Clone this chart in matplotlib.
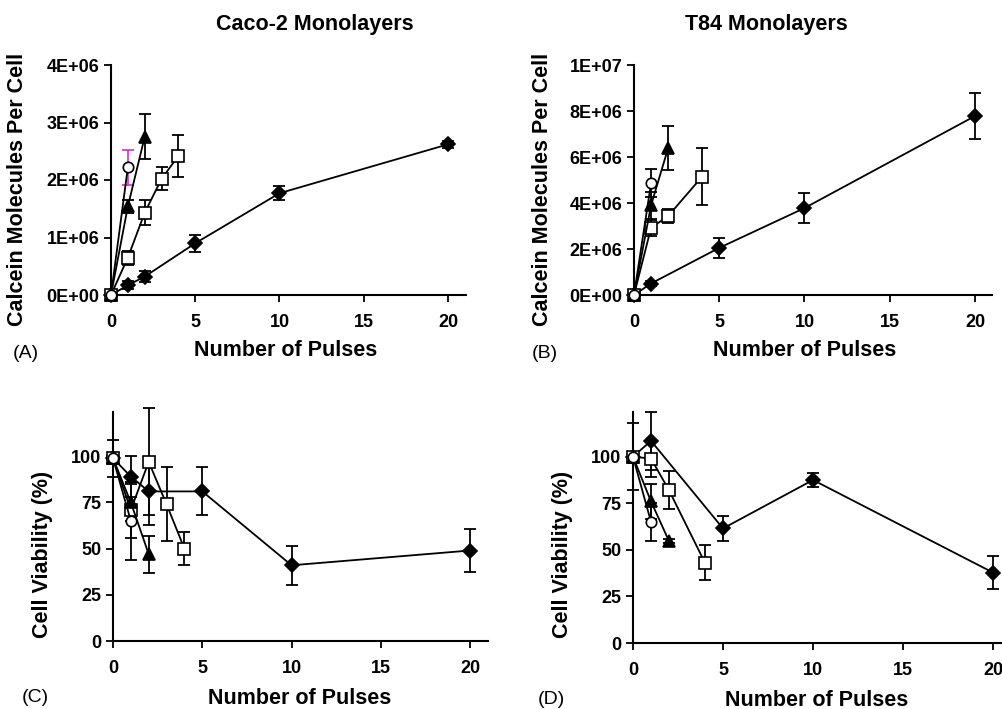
import matplotlib.pyplot as plt
from matplotlib.ticker import FuncFormatter

plt.rcParams['font.family'] = ['Liberation Sans', 'DejaVu Sans']

# ---- Caco-2 calcein uptake (A)
a_dia_x = [0, 1, 2, 5, 10, 20]
a_dia_y = [0, 0.17e6, 0.32e6, 0.90e6, 1.77e6, 2.62e6]
a_dia_e = [0, 0.07e6, 0.09e6, 0.15e6, 0.12e6, 0.06e6]
a_sq_x = [0, 1, 2, 3, 4]
a_sq_y = [0, 0.65e6, 1.43e6, 2.02e6, 2.42e6]
a_sq_e = [0, 0.12e6, 0.22e6, 0.20e6, 0.37e6]
a_tri_x = [0, 1, 2]
a_tri_y = [0, 1.54e6, 2.75e6]
a_tri_e = [0, 0.12e6, 0.39e6]
a_cir_x = [0, 1]
a_cir_y = [0, 2.22e6]
a_cir_e = [0, 0.31e6]

# ---- T84 calcein uptake (B)
b_dia_x = [0, 1, 5, 10, 20]
b_dia_y = [0, 0.5e6, 2.05e6, 3.78e6, 7.78e6]
b_dia_e = [0, 0.1e6, 0.43e6, 0.64e6, 1.0e6]
b_sq_x = [0, 1, 2, 4]
b_sq_y = [0, 2.92e6, 3.43e6, 5.15e6]
b_sq_e = [0, 0.35e6, 0.3e6, 1.25e6]
b_tri_x = [0, 1, 2]
b_tri_y = [0, 3.9e6, 6.38e6]
b_tri_e = [0, 0.6e6, 0.96e6]
b_cir_x = [0, 1]
b_cir_y = [0, 4.86e6]
b_cir_e = [0, 0.6e6]

# ---- Caco-2 viability (C)
c_dia_x = [0, 1, 2, 5, 10, 20]
c_dia_y = [99, 89, 81, 81, 41, 49]
c_dia_e = [10, 11, 18, 13, 10.5, 11.5]
c_sq_x = [0, 1, 2, 3, 4]
c_sq_y = [99, 71, 97, 74, 50]
c_sq_e = [0, 15, 29, 20, 9]
c_tri_x = [0, 1, 2]
c_tri_y = [99, 75, 47]
c_tri_e = [0, 10, 10]
c_cir_x = [0, 1]
c_cir_y = [99, 65]
c_cir_e = [0, 21]

# ---- T84 viability (D)
d_dia_x = [0, 1, 5, 10, 20]
d_dia_y = [100, 108.5, 61.5, 87.5, 37.8]
d_dia_e = [18, 15.6, 6.5, 3.8, 9]
d_sq_x = [0, 1, 2, 4]
d_sq_y = [100, 99, 82, 43]
d_sq_e = [0, 10, 10.3, 9.4]
d_tri_x = [0, 1, 2]
d_tri_y = [100, 76, 54.7]
d_tri_e = [0, 9.5, 1]
d_cir_x = [0, 1]
d_cir_y = [100, 65]
d_cir_e = [0, 10]

fig = plt.figure(figsize=(10.02, 7.09), dpi=100)


def draw_series(ax, x, y, e, marker, filled, ms, ecolor='black'):
    ax.errorbar(x, y, yerr=e, fmt='none', ecolor=ecolor, elinewidth=1.3,
                capsize=4.5, capthick=1.3, clip_on=False, zorder=2)
    ax.plot(x, y, color='black', lw=1.3, marker=marker, ms=ms,
            mfc='black' if filled else 'white', mec='black', mew=1.2,
            clip_on=False, zorder=3)


def style_axes(ax, xmax, ymax, yticks, ylabel, ylab_xy, xlab_xy, yfmt=None):
    ax.set_xlim(0, xmax)
    ax.set_ylim(0, ymax)
    ax.set_xticks([0, 5, 10, 15, 20])
    ax.set_yticks(yticks)
    if yfmt is not None:
        ax.yaxis.set_major_formatter(FuncFormatter(yfmt))
    for s in ['top', 'right']:
        ax.spines[s].set_visible(False)
    for s in ['left', 'bottom']:
        ax.spines[s].set_linewidth(1.5)
    ax.tick_params(direction='out', length=5, width=1.3, labelsize=13)
    ax.tick_params(axis='x', pad=9)
    ax.tick_params(axis='y', pad=3.5)
    for lab in ax.get_xticklabels() + ax.get_yticklabels():
        lab.set_fontweight('bold')
    ax.set_xlabel('Number of Pulses', fontsize=15.5, fontweight='bold')
    ax.set_ylabel(ylabel, fontsize=15.5, fontweight='bold')
    ax.yaxis.set_label_coords(*ylab_xy)
    ax.xaxis.set_label_coords(*xlab_xy)


def sci(v, pos):
    return f'{v:.0E}'


# Panel A
axA = fig.add_axes([111 / 1002, 1 - 295 / 709, 355 / 1002, 230 / 709])
draw_series(axA, a_dia_x, a_dia_y, a_dia_e, 'D', True, 7)
draw_series(axA, a_sq_x, a_sq_y, a_sq_e, 's', False, 8)
draw_series(axA, a_tri_x, a_tri_y, a_tri_e, '^', True, 8)
draw_series(axA, a_cir_x, a_cir_y, a_cir_e, 'o', False, 7.5, ecolor='#cc44cc')
style_axes(axA, 21.07, 4e6, [0, 1e6, 2e6, 3e6, 4e6], 'Calcein Molecules Per Cell',
           (-0.234, 0.46), (0.493, -0.196), sci)

# Panel B
axB = fig.add_axes([634 / 1002, 1 - 295 / 709, 358 / 1002, 230 / 709])
draw_series(axB, b_dia_x, b_dia_y, b_dia_e, 'D', True, 7)
draw_series(axB, b_sq_x, b_sq_y, b_sq_e, 's', False, 8)
draw_series(axB, b_tri_x, b_tri_y, b_tri_e, '^', True, 8)
draw_series(axB, b_cir_x, b_cir_y, b_cir_e, 'o', False, 7.5)
style_axes(axB, 21.0, 1e7, [0, 2e6, 4e6, 6e6, 8e6, 1e7], 'Calcein Molecules Per Cell',
           (-0.226, 0.46), (0.478, -0.196), sci)

# Panel C
axC = fig.add_axes([113 / 1002, 1 - 641 / 709, 375 / 1002, 229 / 709])
draw_series(axC, c_dia_x, c_dia_y, c_dia_e, 'D', True, 7)
draw_series(axC, c_sq_x, c_sq_y, c_sq_e, 's', False, 8)
draw_series(axC, c_tri_x, c_tri_y, c_tri_e, '^', True, 8)
draw_series(axC, c_cir_x, c_cir_y, c_cir_e, 'o', False, 7.5)
style_axes(axC, 21.0, 124, [0, 25, 50, 75, 100], 'Cell Viability (%)',
           (-0.16, 0.38), (0.499, -0.205))

# Panel D
axD = fig.add_axes([633 / 1002, 1 - 643 / 709, 378 / 1002, 231 / 709])
draw_series(axD, d_dia_x, d_dia_y, d_dia_e, 'D', True, 7)
draw_series(axD, d_sq_x, d_sq_y, d_sq_e, 's', False, 8)
draw_series(axD, d_tri_x, d_tri_y, d_tri_e, '^', True, 8)
draw_series(axD, d_cir_x, d_cir_y, d_cir_e, 'o', False, 7.5)
style_axes(axD, 21.0, 124, [0, 25, 50, 75, 100], 'Cell Viability (%)',
           (-0.159, 0.385), (0.487, -0.203))

# Titles and panel letters
fig.text(315 / 1002, 1 - 30 / 709, 'Caco-2 Monolayers', ha='center', va='baseline',
         fontsize=15.5, fontweight='bold')
fig.text(766 / 1002, 1 - 30 / 709, 'T84 Monolayers', ha='center', va='baseline',
         fontsize=15.5, fontweight='bold')
fig.text(13 / 1002, 1 - 353 / 709, '(A)', ha='left', va='center', fontsize=14)
fig.text(532 / 1002, 1 - 353 / 709, '(B)', ha='left', va='center', fontsize=14)
fig.text(22 / 1002, 1 - 697 / 709, '(C)', ha='left', va='center', fontsize=14)
fig.text(538 / 1002, 1 - 699 / 709, '(D)', ha='left', va='center', fontsize=14)

fig.savefig('out.png', dpi=100)
